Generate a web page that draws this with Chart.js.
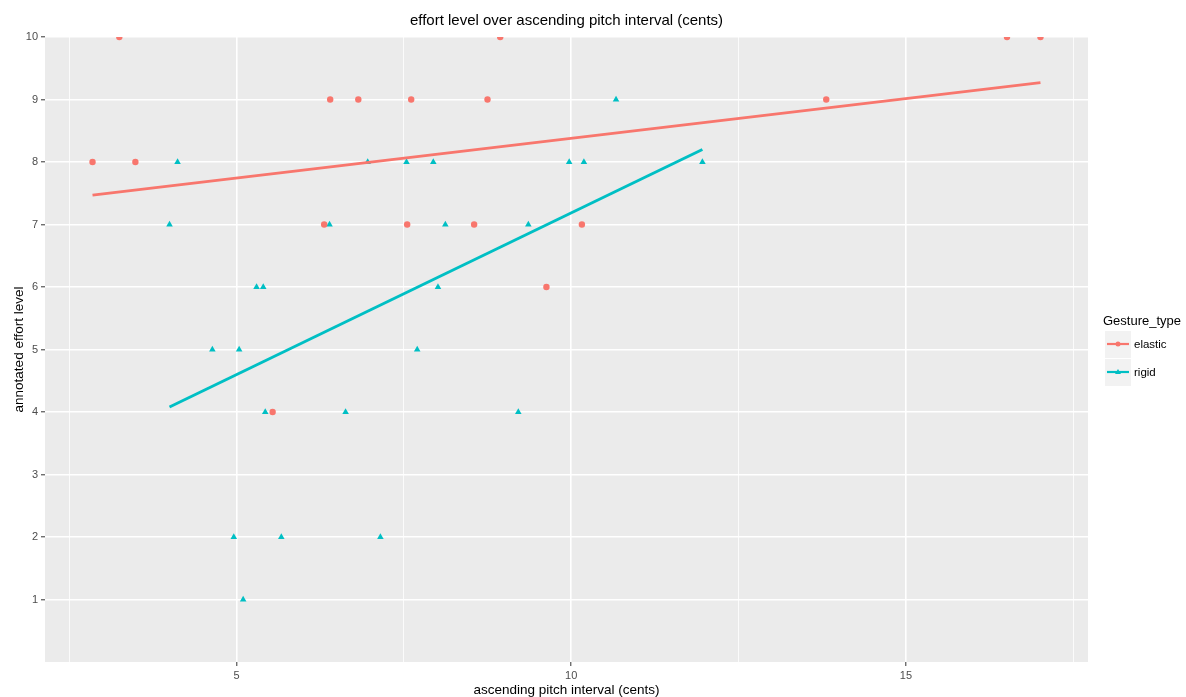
<!DOCTYPE html>
<html>
<head>
<meta charset="utf-8">
<script src="https://cdn.jsdelivr.net/npm/chart.js@4.4.1/dist/chart.umd.min.js"></script>
<style>
  html, body { margin: 0; padding: 0; background: #fff; }
  #wrap { width: 1186px; height: 697px; }
</style>
</head>
<body>
<div id="wrap"><canvas id="chart"></canvas></div>
<script>
const groups = ["elastic", "rigid"];
const groupColors = ["#F8766D", "#00BFC4"];

// annotated points, one pair of arrays per gesture type
const elasticX = [2.85, 3.25, 3.49, 5.54, 6.31, 6.40, 6.82, 7.55, 7.61, 8.55, 8.75, 8.94, 9.63, 10.16, 13.81, 16.51, 17.01];
const elasticY = [8, 10, 8, 4, 7, 9, 9, 7, 9, 7, 9, 10, 6, 7, 9, 10, 10];
const rigidX = [4.00, 4.12, 4.64, 4.96, 5.04, 5.10, 5.30, 5.40, 5.43, 5.67, 6.39, 6.63, 6.96, 7.15, 7.54, 7.70, 7.94, 8.01, 8.12, 9.21, 9.36, 9.97, 10.19, 10.67, 11.96];
const rigidY = [7, 8, 5, 2, 5, 1, 6, 6, 4, 2, 7, 4, 8, 2, 8, 5, 8, 6, 7, 4, 7, 8, 8, 9, 8];

// linear fit, evaluated at each group's x range
const elasticFitX = [2.85, 17.01];
const elasticFitY = [7.47, 9.27];
const rigidFitX = [4.00, 11.96];
const rigidFitY = [4.08, 8.20];

const xTicks = [2.5, 5, 7.5, 10, 12.5, 15, 17.5];
const xTickLabels = ["", "5", "", "10", "", "15", ""];
const yTicks = [1, 2, 3, 4, 5, 6, 7, 8, 9, 10];
const yTickLabels = ["1", "2", "3", "4", "5", "6", "7", "8", "9", "10"];

const toPoints = (xs, ys) => xs.map((x, i) => ({ x, y: ys[i] }));
const isMajorX = (v) => xTickLabels[xTicks.indexOf(v)] !== "";

const FONT = "'Liberation Sans', Arial, sans-serif";

const panelBg = {
  id: "panelBg",
  beforeDraw(chart) {
    const { ctx, chartArea: a } = chart;
    ctx.save();
    ctx.fillStyle = "#EBEBEB";
    ctx.fillRect(a.left, a.top, a.right - a.left, a.bottom - a.top);
    ctx.restore();
  },
};

// ggplot-style legend on the right: grey key boxes with line + marker
const sideLegend = {
  id: "sideLegend",
  afterDraw(chart) {
    const { ctx } = chart;
    const x0 = 1105;
    ctx.save();
    ctx.fillStyle = "#000";
    ctx.font = "13px " + FONT;
    ctx.textBaseline = "middle";
    ctx.textAlign = "left";
    ctx.fillText("Gesture_type", 1103, 321);

    groups.forEach((g, i) => {
      const top = 331 + i * 28;
      const cy = top + 13;
      ctx.fillStyle = "#F2F2F2";
      ctx.fillRect(x0, top, 26, 27);
      ctx.strokeStyle = groupColors[i];
      ctx.lineWidth = 2.2;
      ctx.beginPath();
      ctx.moveTo(x0 + 2, cy);
      ctx.lineTo(x0 + 24, cy);
      ctx.stroke();
      ctx.fillStyle = groupColors[i];
      ctx.beginPath();
      if (i === 0) {
        ctx.arc(x0 + 13, cy, 2.5, 0, Math.PI * 2);
      } else {
        ctx.moveTo(x0 + 13, cy - 3);
        ctx.lineTo(x0 + 16, cy + 2);
        ctx.lineTo(x0 + 10, cy + 2);
        ctx.closePath();
      }
      ctx.fill();
      ctx.fillStyle = "#000";
      ctx.font = "11.5px " + FONT;
      ctx.fillText(g, x0 + 29, cy + 1);
    });
    ctx.restore();
  },
};

new Chart(document.getElementById("chart"), {
  type: "scatter",
  data: {
    datasets: [
      {
        label: "elastic fit",
        data: toPoints(elasticFitX, elasticFitY),
        showLine: true,
        borderColor: groupColors[0],
        borderWidth: 3,
        pointRadius: 0,
        clip: 0,
      },
      {
        label: "rigid fit",
        data: toPoints(rigidFitX, rigidFitY),
        showLine: true,
        borderColor: groupColors[1],
        borderWidth: 3,
        pointRadius: 0,
        clip: 0,
      },
      {
        label: groups[0],
        data: toPoints(elasticX, elasticY),
        pointStyle: "circle",
        pointRadius: 3.2,
        pointBorderWidth: 0,
        backgroundColor: groupColors[0],
        borderColor: groupColors[0],
        clip: 0,
      },
      {
        label: groups[1],
        data: toPoints(rigidX, rigidY),
        pointStyle: "triangle",
        pointRadius: 3.8,
        pointBorderWidth: 0,
        backgroundColor: groupColors[1],
        borderColor: groupColors[1],
        clip: 0,
      },
    ],
  },
  options: {
    responsive: true,
    maintainAspectRatio: false,
    animation: false,
    layout: { padding: { right: 98, left: 0, top: 0, bottom: 0 } },
    plugins: {
      legend: { display: false },
      tooltip: { enabled: false },
      title: {
        display: true,
        text: "effort level over ascending pitch interval (cents)",
        color: "#000",
        fullSize: false,
        font: { family: FONT, size: 15, weight: "normal", lineHeight: 1.2 },
        padding: { top: 12, bottom: 7 },
      },
    },
    scales: {
      x: {
        type: "linear",
        min: 2.14,
        max: 17.72,
        afterBuildTicks: (scale) => {
          scale.ticks = xTicks.map((v) => ({ value: v }));
        },
        afterFit: (scale) => {
          scale.height = 35;
        },
        border: { display: false },
        grid: {
          color: "#FFFFFF",
          lineWidth: (c) => (c.tick && isMajorX(c.tick.value) ? 1.6 : 0.8),
          tickColor: (c) => (c.tick && isMajorX(c.tick.value) ? "#333333" : "rgba(0,0,0,0)"),
          tickLength: 4,
          tickWidth: 1,
        },
        ticks: {
          autoSkip: false,
          maxRotation: 0,
          color: "#4D4D4D",
          padding: 3,
          font: { family: FONT, size: 11 },
          callback: (value, index) => xTickLabels[index],
        },
        title: {
          display: true,
          text: "ascending pitch interval (cents)",
          color: "#000",
          font: { family: FONT, size: 13.5, lineHeight: 1.0 },
          padding: { top: 0, bottom: 0 },
        },
      },
      y: {
        type: "linear",
        min: 0,
        max: 10,
        afterBuildTicks: (scale) => {
          scale.ticks = yTicks.map((v) => ({ value: v }));
        },
        afterFit: (scale) => {
          scale.width = 45;
        },
        border: { display: false },
        grid: {
          color: "#FFFFFF",
          lineWidth: 1.6,
          tickColor: "#333333",
          tickLength: 4,
          tickWidth: 1,
        },
        ticks: {
          autoSkip: false,
          color: "#4D4D4D",
          padding: 3,
          font: { family: FONT, size: 11 },
          callback: (value, index) => yTickLabels[index],
        },
        title: {
          display: true,
          text: "annotated effort level",
          color: "#000",
          font: { family: FONT, size: 13.5, lineHeight: 1.2 },
          padding: { top: 11, bottom: 0 },
        },
      },
    },
  },
  plugins: [panelBg, sideLegend],
});
</script>
</body>
</html>
